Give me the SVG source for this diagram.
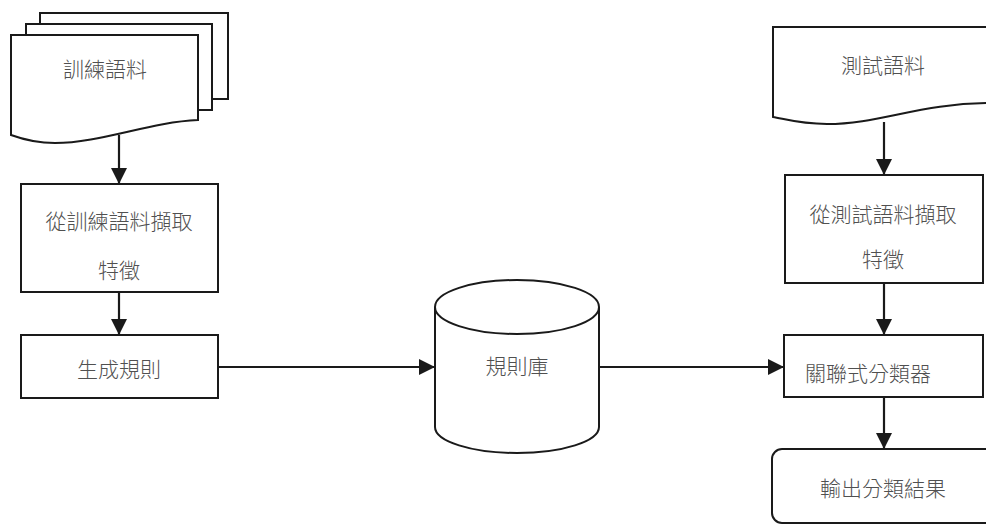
<svg xmlns="http://www.w3.org/2000/svg" width="986" height="524" viewBox="0 0 986 524">
<style>
.s{fill:#fff;stroke:#1a1a1a;stroke-width:2}
.t{font-family:"Noto Sans CJK TC","Noto Sans CJK SC",sans-serif;font-size:21px;font-weight:300;fill:#505050;text-anchor:middle;dominant-baseline:central}
.c{fill:none;stroke:#1a1a1a;stroke-width:2.2}
</style>
<defs>
<marker id="a" markerWidth="16" markerHeight="16" refX="16" refY="8" orient="auto" markerUnits="userSpaceOnUse" viewBox="0 0 16 16">
<path d="M0,0 L16,8 L0,16 Z" fill="#1a1a1a"/>
</marker>
</defs>
<rect width="986" height="524" fill="#fff"/>
<g id="train-corpus">
<rect class="s" x="40" y="13" width="188" height="86"/>
<rect class="s" x="26" y="24" width="186" height="86"/>
<path class="s" d="M11,35 H198 V120 C150,122 100,143 55,143 C35,143 22,139 11,135 Z"/>
<text class="t" x="105" y="68">訓練語料</text>
</g>
<g id="train-extract">
<rect class="s" x="21" y="184" width="197" height="108"/>
<text class="t" x="119" y="220">從訓練語料擷取</text>
<text class="t" x="119" y="269">特徵</text>
</g>
<g id="gen-rules">
<rect class="s" x="21" y="335" width="197" height="63"/>
<text class="t" x="119" y="368">生成規則</text>
</g>
<g id="rulebase">
<path class="s" d="M435,307 V427 A82,26 0 0 0 599,427 V307"/>
<ellipse class="s" cx="517" cy="307" rx="82" ry="27"/>
<text class="t" x="517" y="365">規則庫</text>
</g>
<g id="test-corpus">
<path class="s" d="M773,27 H992 V103 C920,103 880,124 827,124 C800,124 785,119 773,117 Z"/>
<text class="t" x="883" y="64">測試語料</text>
</g>
<g id="test-extract">
<rect class="s" x="785" y="175" width="198" height="108"/>
<text class="t" x="883" y="213">從測試語料擷取</text>
<text class="t" x="883" y="258">特徵</text>
</g>
<g id="classifier">
<rect class="s" x="784" y="335" width="199" height="62"/>
<text class="t" x="868" y="372">關聯式分類器</text>
</g>
<g id="output">
<rect class="s" x="772" y="449" width="240" height="74" rx="10"/>
<text class="t" x="883" y="487">輸出分類結果</text>
</g>
<g id="connectors">
<path class="c" d="M119,135 V184" marker-end="url(#a)"/>
<path class="c" d="M119,292 V335" marker-end="url(#a)"/>
<path class="c" d="M218,367 H435" marker-end="url(#a)"/>
<path class="c" d="M599,367 H784" marker-end="url(#a)"/>
<path class="c" d="M884,122 V175" marker-end="url(#a)"/>
<path class="c" d="M884,283 V335" marker-end="url(#a)"/>
<path class="c" d="M884,397 V449" marker-end="url(#a)"/>
</g>
</svg>
